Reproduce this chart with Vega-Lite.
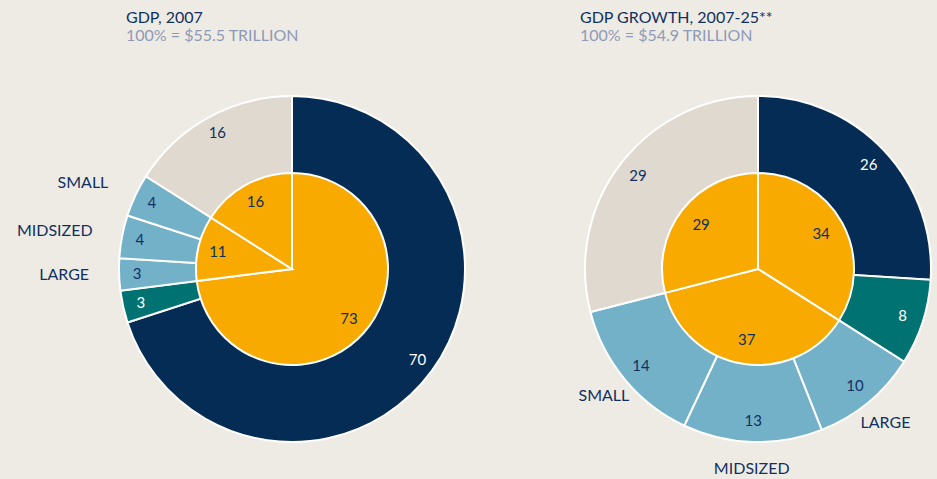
{
  "$schema": "https://vega.github.io/schema/vega-lite/v6.json",
  "background": "#EEEBE5",
  "padding": {"left": 16, "top": 10, "right": 0, "bottom": 0},
  "spacing": 116,
  "bounds": "flush",
  "config": {
    "view": {"stroke": null},
    "font": "Lato",
    "title": {"anchor": "start", "frame": "group", "fontSize": 16, "fontWeight": "normal", "color": "#12305F", "subtitleFontSize": 16, "subtitleColor": "#8E9AB6", "subtitlePadding": 2, "offset": 15}
  },
  "datasets": {
    "outer": [
      {"chart": "2007", "segment": "Developed", "size": "", "rank": 1, "value": 70},
      {"chart": "2007", "segment": "Emerging megacities", "size": "", "rank": 2, "value": 3},
      {"chart": "2007", "segment": "Large", "size": "LARGE", "rank": 3, "value": 3},
      {"chart": "2007", "segment": "Midsized", "size": "MIDSIZED", "rank": 4, "value": 4},
      {"chart": "2007", "segment": "Small", "size": "SMALL", "rank": 5, "value": 4},
      {"chart": "2007", "segment": "Other", "size": "", "rank": 6, "value": 16},
      {"chart": "growth", "segment": "Developed", "size": "", "rank": 1, "value": 26},
      {"chart": "growth", "segment": "Emerging megacities", "size": "", "rank": 2, "value": 8},
      {"chart": "growth", "segment": "Large", "size": "LARGE", "rank": 3, "value": 10},
      {"chart": "growth", "segment": "Midsized", "size": "MIDSIZED", "rank": 4, "value": 13},
      {"chart": "growth", "segment": "Small", "size": "SMALL", "rank": 5, "value": 14},
      {"chart": "growth", "segment": "Other", "size": "", "rank": 6, "value": 29}
    ],
    "inner": [
      {"chart": "2007", "group": "Developed and megacities", "rank": 1, "value": 73},
      {"chart": "2007", "group": "Middleweights", "rank": 2, "value": 11},
      {"chart": "2007", "group": "Other", "rank": 3, "value": 16},
      {"chart": "growth", "group": "Developed and megacities", "rank": 1, "value": 34},
      {"chart": "growth", "group": "Middleweights", "rank": 2, "value": 37},
      {"chart": "growth", "group": "Other", "rank": 3, "value": 29}
    ]
  },
  "hconcat": [
    {
      "title": {"text": "GDP, 2007", "subtitle": "100% = $55.5 TRILLION", "dx": 9},
      "width": 350,
      "height": 420,
      "layer": [
        {
          "data": {"name": "outer"},
          "transform": [{"filter": "datum.chart == '2007'"}],
          "mark": {"type": "arc", "radius": 173, "stroke": "white", "strokeWidth": 2},
          "encoding": {
            "theta": {"field": "value", "type": "quantitative", "stack": true},
            "order": {"field": "rank", "type": "quantitative"},
            "color": {"field": "segment", "type": "nominal", "legend": null,
              "scale": {"domain": ["Developed", "Emerging megacities", "Large", "Midsized", "Small", "Other"], "range": ["#042C55", "#007272", "#73B1C9", "#73B1C9", "#73B1C9", "#E0D9CF"]}}
          }
        },
        {
          "data": {"name": "outer"},
          "transform": [{"filter": "datum.chart == '2007'"}],
          "mark": {"type": "text", "radius": 155, "fontSize": 15},
          "encoding": {
            "theta": {"field": "value", "type": "quantitative", "stack": true},
            "order": {"field": "rank", "type": "quantitative"},
            "text": {"field": "value", "type": "quantitative"},
            "color": {"condition": {"test": "datum.segment == 'Developed' || datum.segment == 'Emerging megacities'", "value": "white"}, "value": "#12305F"}
          }
        },
        {
          "data": {"name": "outer"},
          "transform": [{"filter": "datum.chart == '2007'"}],
          "mark": {"type": "text", "radius": 203, "fontSize": 16, "align": "right", "color": "#12305F"},
          "encoding": {
            "theta": {"field": "value", "type": "quantitative", "stack": true},
            "order": {"field": "rank", "type": "quantitative"},
            "text": {"field": "size", "type": "nominal"}
          }
        },
        {
          "data": {"name": "inner"},
          "transform": [{"filter": "datum.chart == '2007'"}],
          "mark": {"type": "arc", "radius": 96, "stroke": "white", "strokeWidth": 2, "color": "#F8AA00"},
          "encoding": {
            "theta": {"field": "value", "type": "quantitative", "stack": true},
            "order": {"field": "rank", "type": "quantitative"}
          }
        },
        {
          "data": {"name": "inner"},
          "transform": [{"filter": "datum.chart == '2007'"}],
          "mark": {"type": "text", "radius": 76, "fontSize": 15, "color": "#12305F"},
          "encoding": {
            "theta": {"field": "value", "type": "quantitative", "stack": true},
            "order": {"field": "rank", "type": "quantitative"},
            "text": {"field": "value", "type": "quantitative"}
          }
        }
      ]
    },
    {
      "title": {"text": "GDP GROWTH, 2007-25**", "subtitle": "100% = $54.9 TRILLION", "dx": -3},
      "width": 350,
      "height": 420,
      "layer": [
        {
          "data": {"name": "outer"},
          "transform": [{"filter": "datum.chart == 'growth'"}],
          "mark": {"type": "arc", "radius": 173, "stroke": "white", "strokeWidth": 2},
          "encoding": {
            "theta": {"field": "value", "type": "quantitative", "stack": true},
            "order": {"field": "rank", "type": "quantitative"},
            "color": {"field": "segment", "type": "nominal", "legend": null,
              "scale": {"domain": ["Developed", "Emerging megacities", "Large", "Midsized", "Small", "Other"], "range": ["#042C55", "#007272", "#73B1C9", "#73B1C9", "#73B1C9", "#E0D9CF"]}}
          }
        },
        {
          "data": {"name": "outer"},
          "transform": [{"filter": "datum.chart == 'growth'"}],
          "mark": {"type": "text", "radius": 152, "fontSize": 15},
          "encoding": {
            "theta": {"field": "value", "type": "quantitative", "stack": true},
            "order": {"field": "rank", "type": "quantitative"},
            "text": {"field": "value", "type": "quantitative"},
            "color": {"condition": {"test": "datum.segment == 'Developed' || datum.segment == 'Emerging megacities'", "value": "white"}, "value": "#12305F"}
          }
        },
        {
          "data": {"name": "outer"},
          "transform": [{"filter": "datum.chart == 'growth'"}],
          "mark": {"type": "text", "radius": 200, "fontSize": 16, "align": "center", "color": "#12305F"},
          "encoding": {
            "theta": {"field": "value", "type": "quantitative", "stack": true},
            "order": {"field": "rank", "type": "quantitative"},
            "text": {"field": "size", "type": "nominal"}
          }
        },
        {
          "data": {"name": "inner"},
          "transform": [{"filter": "datum.chart == 'growth'"}],
          "mark": {"type": "arc", "radius": 96, "stroke": "white", "strokeWidth": 2, "color": "#F8AA00"},
          "encoding": {
            "theta": {"field": "value", "type": "quantitative", "stack": true},
            "order": {"field": "rank", "type": "quantitative"}
          }
        },
        {
          "data": {"name": "inner"},
          "transform": [{"filter": "datum.chart == 'growth'"}],
          "mark": {"type": "text", "radius": 72, "fontSize": 15, "color": "#12305F"},
          "encoding": {
            "theta": {"field": "value", "type": "quantitative", "stack": true},
            "order": {"field": "rank", "type": "quantitative"},
            "text": {"field": "value", "type": "quantitative"}
          }
        }
      ]
    }
  ]
}
